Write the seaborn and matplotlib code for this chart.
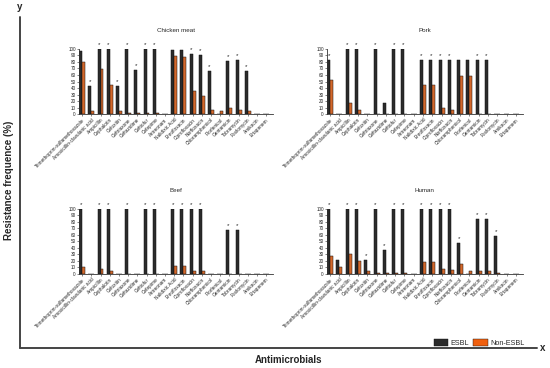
import matplotlib
matplotlib.use('Agg')
import matplotlib.pyplot as plt
from matplotlib.patches import Patch
import seaborn as sns
import pandas as pd

antimicrobials = ['Trimethoprim-sulfamethoxazole', 'Amoxicillin-clavulanic acid', 'Ampicillin',
                  'Cephalotin', 'Cefoxitin', 'Ceftriaxone', 'Ceftazidime', 'Ceftiofur', 'Cefepime',
                  'Aztreonam', 'Nalidixic Acid', 'Enrofloxacin', 'Ciprofloxacin', 'Norfloxacin',
                  'Chloramphenicol', 'Florfenicol', 'Gentamicin', 'Tobramycin', 'Fosfomycin',
                  'Amikacin', 'Ertapenem']

# resistance (%) per antimicrobial, ESBL vs Non-ESBL
chicken_esbl = [97, 43, 100, 100, 43, 100, 68, 100, 100, 0, 98, 98, 92, 90, 66, 0, 81, 83, 66, 0, 0]
chicken_non = [80, 4, 69, 44, 4, 2, 1, 2, 2, 0, 89, 88, 36, 28, 7, 4, 9, 6, 5, 0, 0]
chicken_sig = [0, 1, 1, 1, 1, 1, 1, 1, 1, 0, 0, 0, 1, 1, 1, 0, 1, 1, 1, 0, 0]

pork_esbl = [83, 0, 100, 100, 0, 100, 17, 100, 100, 0, 83, 83, 83, 83, 83, 83, 83, 83, 0, 0, 0]
pork_non = [52, 0, 17, 7, 0, 0, 0, 0, 0, 0, 45, 45, 10, 7, 58, 58, 0, 0, 0, 0, 0]
pork_sig = [1, 0, 1, 1, 0, 1, 0, 1, 1, 0, 1, 1, 1, 1, 0, 0, 1, 1, 0, 0, 0]

beef_esbl = [100, 0, 100, 100, 0, 100, 0, 100, 100, 0, 100, 100, 100, 100, 0, 0, 67, 67, 0, 0, 0]
beef_non = [11, 0, 8, 4, 0, 0, 0, 0, 0, 0, 13, 13, 4, 4, 0, 0, 0, 0, 0, 0, 0]
beef_sig = [1, 0, 1, 1, 0, 1, 0, 1, 1, 0, 1, 1, 1, 1, 0, 0, 1, 1, 0, 0, 0]

human_esbl = [100, 21, 100, 100, 21, 100, 37, 100, 100, 0, 100, 100, 100, 100, 47, 0, 84, 84, 58, 0, 0]
human_non = [27, 10, 31, 20, 4, 2, 1, 2, 2, 0, 18, 18, 7, 6, 16, 5, 5, 4, 2, 0, 0]
human_sig = [1, 0, 1, 1, 1, 1, 1, 1, 1, 0, 1, 1, 1, 1, 1, 0, 1, 1, 1, 0, 0]

panels = [
    ('Chicken meat', chicken_esbl, chicken_non, chicken_sig, [0.1436, 0.690, 0.353, 0.177]),
    ('Pork', pork_esbl, pork_non, pork_sig, [0.5945, 0.690, 0.356, 0.177]),
    ('Beef', beef_esbl, beef_non, beef_sig, [0.1436, 0.2554, 0.353, 0.177]),
    ('Human', human_esbl, human_non, human_sig, [0.5945, 0.2554, 0.356, 0.177]),
]

sns.set_style('white')
plt.rcParams['font.family'] = ['Liberation Sans', 'DejaVu Sans']

colors = {'ESBL': '#2b2b2b', 'Non-ESBL': '#f0600f'}
bar_w = 0.64

fig = plt.figure(figsize=(5.5, 3.68), dpi=100)

for title, esbl, non, sig, pos in panels:
    ax = fig.add_axes(pos)
    df = pd.DataFrame({
        'antimicrobial': antimicrobials * 2,
        'group': ['ESBL'] * len(antimicrobials) + ['Non-ESBL'] * len(antimicrobials),
        'value': esbl + non,
    })
    sns.barplot(data=df, x='antimicrobial', y='value', hue='group', order=antimicrobials,
                hue_order=['ESBL', 'Non-ESBL'], palette=colors, width=bar_w, dodge=True,
                edgecolor='#111111', linewidth=0.35, legend=False, ax=ax)
    for i, s in enumerate(sig):
        if s:
            ax.text(i - bar_w / 4, esbl[i] + 3, '*', ha='center', va='bottom', fontsize=4.5,
                    clip_on=False)
    ax.set_xlim(-0.34, 20.75)
    ax.set_ylim(0, 100)
    ax.set_yticks(range(0, 101, 10))
    ax.set_xlabel('')
    ax.set_ylabel('')
    ax.set_title(title, fontsize=4.5, pad=12)
    ax.set_xticks(range(len(antimicrobials)))
    ax.set_xticklabels(antimicrobials, rotation=45, ha='right', rotation_mode='anchor', fontsize=3.4)
    ax.tick_params(axis='y', labelsize=3.3, length=1.5, width=0.4, pad=0.8, left=True)
    ax.tick_params(axis='x', length=1.5, width=0.4, pad=0.8, bottom=True)
    for side in ['top', 'right']:
        ax.spines[side].set_visible(False)
    for side in ['left', 'bottom']:
        ax.spines[side].set_linewidth(0.6)
        ax.spines[side].set_color('#333333')

# outer frame with axis letters
frame = fig.add_axes([0, 0, 1, 1], zorder=-1)
frame.set_xlim(0, 550)
frame.set_ylim(368, 0)
frame.axis('off')
frame.plot([20, 20], [17, 348], color='#444444', lw=1.4)
frame.plot([20, 537], [348, 348], color='#444444', lw=1.4)
frame.text(20, 7, 'y', ha='center', va='center', fontsize=7, fontweight='bold')
frame.text(543, 348, 'x', ha='center', va='center', fontsize=7, fontweight='bold')

fig.text(0.016, 0.51, 'Resistance frequence (%)', rotation=90, ha='center', va='center',
         fontsize=7, fontweight='bold')
fig.text(0.525, 0.022, 'Antimicrobials', ha='center', va='center', fontsize=7, fontweight='bold')

handles = [Patch(facecolor=colors['ESBL'], edgecolor='#111111', linewidth=0.3),
           Patch(facecolor=colors['Non-ESBL'], edgecolor='#111111', linewidth=0.3)]
fig.legend(handles, ['ESBL', 'Non-ESBL'], loc='center right', bbox_to_anchor=(0.965, 0.068),
           ncol=2, frameon=False, fontsize=5.2, handlelength=2.0, handleheight=1.0,
           columnspacing=0.6, handletextpad=0.3)

fig.savefig('out.png', dpi=100)
